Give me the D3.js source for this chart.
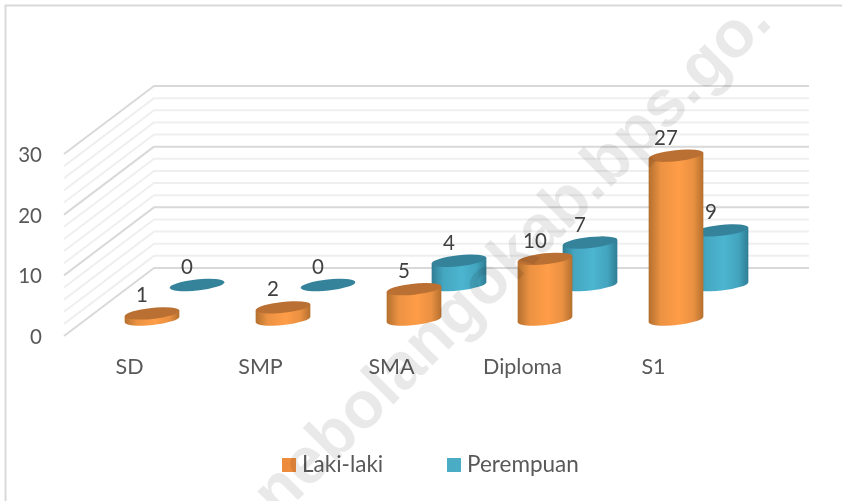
<!DOCTYPE html>
<html>
<head>
<meta charset="utf-8">
<script src="https://cdn.jsdelivr.net/npm/d3@7"></script>
<style>
  html, body { margin: 0; padding: 0; background: #fff; }
  svg { display: block; font-family: Lato, sans-serif; filter: blur(0.45px); }
</style>
</head>
<body>
<div id="chart"></div>
<script>
const categories = ["SD", "SMP", "SMA", "Diploma", "S1"];
const lakiLaki = [1, 2, 5, 10, 27];
const perempuan = [0, 0, 4, 7, 9];
const yTicks = [0, 10, 20, 30];
const gridValues = [0, 2, 4, 6, 8, 10, 12, 14, 16, 18, 20, 22, 24, 26, 28, 30];
const legendLabels = ["Laki-laki", "Perempuan"];

const width = 842, height = 501;

const svg = d3.select("#chart").append("svg")
    .attr("width", width)
    .attr("height", height);

// Frame, only top and left are visible in the picture
svg.append("path")
    .attr("d", "M5.5,501V5.5H842")
    .attr("fill", "none")
    .attr("stroke", "#d9d9d9")
    .attr("stroke-width", 2);

// Scales
const lift = d3.scaleLinear().domain([0, 30]).range([0, 182]);
const xCat = d3.scalePoint().domain(categories).range([152, 676]);

// Fake 3d: the floor runs from the front edge to the back wall
const front = { x: 64, y: 336 };
const back = { x: 154, y: 268, right: 809 };

const grid = svg.append("g").attr("fill", "none").attr("stroke-linejoin", "round");
grid.selectAll("path")
    .data(gridValues)
    .join("path")
    .attr("d", v => `M${front.x},${front.y - lift(v)}L${back.x},${back.y - lift(v)}L${back.right},${back.y - lift(v)}`)
    .attr("stroke", v => v % 10 === 0 ? "#d9d9d9" : "#efefef")
    .attr("stroke-width", 2);

// Axis labels
svg.append("g").selectAll("text")
    .data(yTicks)
    .join("text")
    .attr("x", 42)
    .attr("y", v => front.y - lift(v) + 8)
    .attr("text-anchor", "end")
    .attr("font-size", 20.5)
    .attr("fill", "#595959")
    .text(v => v);

svg.append("g").selectAll("text")
    .data(categories)
    .join("text")
    .attr("x", d => xCat(d) - 22.5)
    .attr("y", 374)
    .attr("text-anchor", "middle")
    .attr("font-size", 21.5)
    .attr("fill", "#595959")
    .text(d => d);

// Cylinder shading
const defs = svg.append("defs");
function shade(id, edge, mid) {
    const g = defs.append("linearGradient").attr("id", id);
    g.append("stop").attr("offset", "0%").attr("stop-color", edge);
    g.append("stop").attr("offset", "22%").attr("stop-color", d3.interpolateRgb(edge, mid)(0.75));
    g.append("stop").attr("offset", "55%").attr("stop-color", mid);
    g.append("stop").attr("offset", "82%").attr("stop-color", d3.interpolateRgb(edge, mid)(0.7));
    g.append("stop").attr("offset", "100%").attr("stop-color", edge);
}
shade("bodyOrange", "#b4702f", "#ff9d48");
shade("bodyTeal", "#2f7d94", "#4cb5d0");

const rx = 27.5, ry = 5.5, tilt = -6;
const dx = rx * Math.cos(tilt * Math.PI / 180);
const dy = rx * Math.sin(tilt * Math.PI / 180);

function bodyPath(cx, base, top) {
    return `M${cx - dx},${top - dy}L${cx - dx},${base - dy}`
        + `A${rx},${ry} ${tilt} 0 0 ${cx + dx},${base + dy}`
        + `L${cx + dx},${top + dy}Z`;
}

const series = [
    { name: "perempuan", values: perempuan, shift: 45, base: 285, body: "url(#bodyTeal)", cap: "#34839b" },
    { name: "laki", values: lakiLaki, shift: 0, base: 319.5, body: "url(#bodyOrange)", cap: "#bb7033" }
];

// Teal row sits behind, drawn first
series.forEach(s => {
    const g = svg.append("g").attr("class", s.name);
    const cols = g.selectAll("g")
        .data(categories.map((c, i) => ({ c, v: s.values[i] })))
        .join("g");
    cols.filter(d => d.v > 0).append("path")
        .attr("d", d => bodyPath(xCat(d.c) + s.shift, s.base, s.base - lift(d.v)))
        .attr("fill", s.body);
    cols.append("ellipse")
        .attr("rx", rx)
        .attr("ry", ry)
        .attr("transform", d => `translate(${xCat(d.c) + s.shift},${s.base - lift(d.v)}) rotate(${tilt})`)
        .attr("fill", s.cap);
    cols.append("text")
        .attr("x", d => xCat(d.c) + s.shift - 10)
        .attr("y", d => s.base - lift(d.v) - 11)
        .attr("text-anchor", "middle")
        .attr("font-size", 20.5)
        .attr("fill", "#404040")
        .text(d => d.v);
});

// Legend
const legendX = [282, 447];
const legendColors = ["#ee8c3e", "#4bacc6"];
const legend = svg.append("g").selectAll("g")
    .data(legendLabels)
    .join("g")
    .attr("transform", (d, i) => `translate(${legendX[i]},458)`);
legend.append("rect").attr("width", 14).attr("height", 14).attr("fill", (d, i) => legendColors[i]);
legend.append("text")
    .attr("x", 20)
    .attr("y", 14)
    .attr("font-size", 22.5)
    .attr("fill", "#595959")
    .text(d => d);

// Watermark on top of everything
svg.append("text")
    .attr("transform", "translate(774,24) rotate(-45)")
    .attr("text-anchor", "end")
    .attr("font-family", "Liberation Sans, Arial, sans-serif")
    .attr("font-weight", "bold")
    .attr("font-size", 66)
    .attr("fill", "#000")
    .attr("fill-opacity", 0.085)
    .text("onebolangokab.bps.go.");
</script>
</body>
</html>
